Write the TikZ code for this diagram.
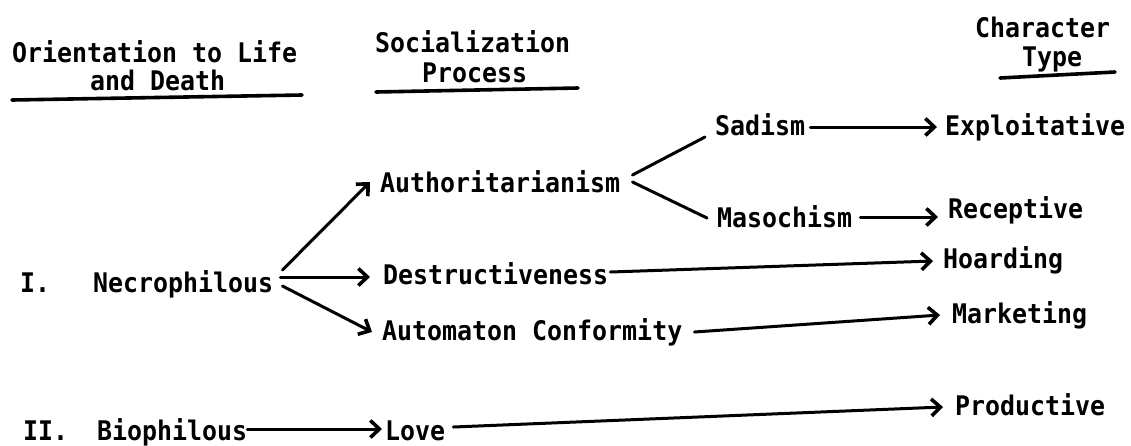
\documentclass[tikz,border=0pt]{standalone}
\usepackage{fontspec}
\newfontfamily\typew[FakeStretch=0.923]{DejaVu Sans Mono Bold}
\usetikzlibrary{arrows.meta}
\begin{document}
\begin{tikzpicture}[x=1pt, y=-1pt, font=\typew\fontsize{27}{32}\selectfont, line join=round, line cap=round,
	>={Straight Barb[length=9pt,width=17pt,line width=3.6pt]},
	txt/.style={anchor=base west, inner sep=0pt},
	arr/.style={->, line width=3pt},
	lin/.style={line width=3pt}]
	\useasboundingbox (0,0) rectangle (1131,445);
	% headings
	\node[txt] (orient) at (12,62) {Orientation to Life};
	\node[txt] (death) at (90,90) {and Death};
	\node[txt] (social) at (375,52) {Socialization};
	\node[txt] (process) at (422,82) {Process};
	\node[txt] (charac) at (975,37) {Character};
	\node[txt] (type) at (1022,66) {Type};
	\draw[lin, line width=3.6pt](12,100)--(302,95);
	\draw[lin, line width=3.6pt](376,92)--(578,88);
	\draw[lin, line width=3.6pt](1000,78)--(1115,72);
	% I.
	\node[txt] (one) at (20,292) {I.};
	\node[txt] (necro) at (93,292) {Necrophilous};
	\node[txt] (auth) at (380,192) {Authoritarianism};
	\node[txt] (destr) at (383,284) {Destructiveness};
	\node[txt] (autom) at (382,340) {Automaton Conformity};
	\node[txt] (sadism) at (715,135) {Sadism};
	\node[txt] (maso) at (717,227) {Masochism};
	\node[txt] (exploit) at (945,135) {Exploitative};
	\node[txt] (recep) at (948,218) {Receptive};
	\node[txt] (hoard) at (943,268) {Hoarding};
	\node[txt] (market) at (952,323) {Marketing};
	% II.
	\node[txt] (two) at (23,440) {II.};
	\node[txt] (bio) at (97,440) {Biophilous};
	\node[txt] (love) at (385,440) {Love};
	\node[txt] (prod) at (955,415) {Productive};
	% connectors
	\draw[arr]([xshift=9pt,yshift=22pt]necro.base east)--([xshift=-10pt,yshift=10pt]auth.base west);
	\draw[arr]([xshift=7pt,yshift=15pt]necro.base east)--([xshift=-13pt,yshift=7pt]destr.base west);
	\draw[arr]([xshift=9pt,yshift=6pt]necro.base east)--([xshift=-10pt,yshift=8pt]autom.base west);
	\draw[lin]([xshift=12pt,yshift=17pt]auth.base east)--([xshift=-10pt,yshift=-2pt]sadism.base west);
	\draw[lin]([xshift=12pt,yshift=10pt]auth.base east)--([xshift=-10pt,yshift=9pt]maso.base west);
	\draw[arr]([xshift=5pt,yshift=8pt]sadism.base east)--([xshift=-8pt,yshift=8pt]exploit.base west);
	\draw[arr]([xshift=8pt,yshift=10pt]maso.base east)--([xshift=-10pt,yshift=1pt]recep.base west);
	\draw[arr]([xshift=2pt,yshift=12pt]destr.base east)--([xshift=-10pt,yshift=7pt]hoard.base west);
	\draw[arr]([xshift=12pt,yshift=8pt]autom.base east)--([xshift=-12pt,yshift=8pt]market.base west);
	\draw[arr]([yshift=11pt]bio.base east)--([xshift=-3pt,yshift=11pt]love.base west);
	\draw[arr]([xshift=8pt,yshift=13pt]love.base east)--([xshift=-12pt,yshift=8pt]prod.base west);
\end{tikzpicture}
\end{document}
